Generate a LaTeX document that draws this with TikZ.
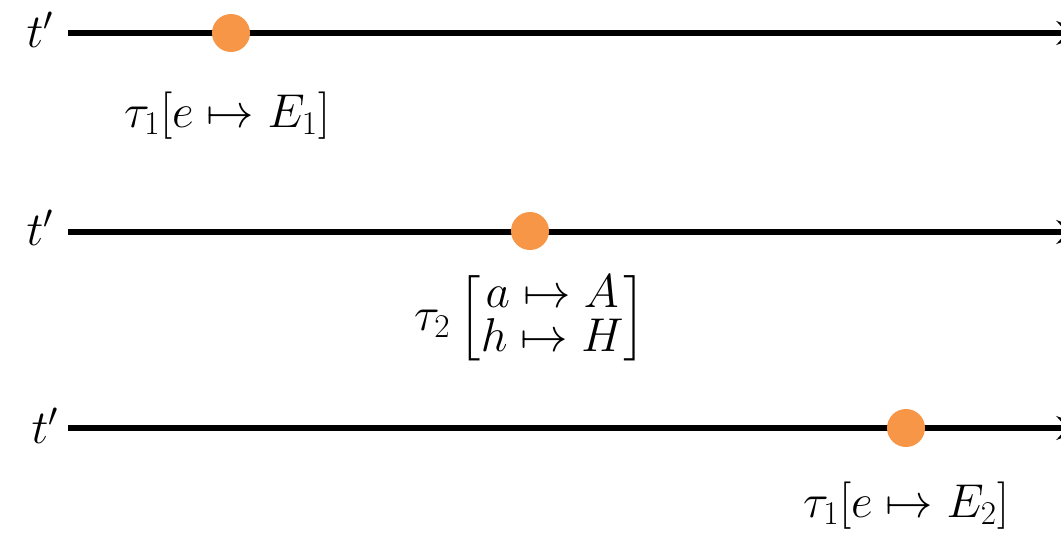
\RequirePackage{fix-cm}
\documentclass[tikz,border=0pt]{standalone}
\usepackage{amsmath,amssymb}
\usepackage{tikz}
\usetikzlibrary{positioning,arrows.meta}
\definecolor{eventcolor}{RGB}{247,150,70}

\begin{document}
\begin{tikzpicture}[
  x=0.02cm, y=-0.02cm,
  >=Stealth,
  timeline/.style={->, line width=3.3pt, color=black},
  event/.style={circle, fill=eventcolor, inner sep=0pt, minimum size=0.76cm},
  lbl/.style={font=\fontsize{27}{32}\selectfont, inner sep=2pt},
  tname/.style={font=\fontsize{27}{32}\selectfont, inner sep=0pt},
]
\useasboundingbox (0,0) rectangle (1061,538);

% === Timelines ===
\coordinate (s1) at (68,33);  \coordinate (e1) at (1088,33);
\coordinate (s2) at (68,232); \coordinate (e2) at (1088,232);
\coordinate (s3) at (68,428); \coordinate (e3) at (1088,428);

\node[tname] (t1) at (40,30)  {$t'$};
\node[tname] (t2) at (40,228) {$t'$};
\node[tname] (t3) at (45,426) {$t'$};

\draw[timeline] (s1) -- (e1);
\draw[timeline] (s2) -- (e2);
\draw[timeline] (s3) -- (e3);

% === Events ===
\node[event] (ev1) at (231,33)  {};
\node[event] (ev2) at (530,231) {};
\node[event] (ev3) at (906,428) {};

% === Substitutions ===
\node[lbl, below=0.72cm of ev1, xshift=-0.08cm] (sub1) {$\tau_1[e \mapsto E_1]$};
\node[lbl, below=0.28cm of ev2] (sub2) {$\tau_2\,\Big[\begin{matrix} a \mapsto A\\[-7pt] h \mapsto H\end{matrix}\Big]$};
\node[lbl, below=0.62cm of ev3] (sub3) {$\tau_1[e \mapsto E_2]$};

\end{tikzpicture}
\end{document}
